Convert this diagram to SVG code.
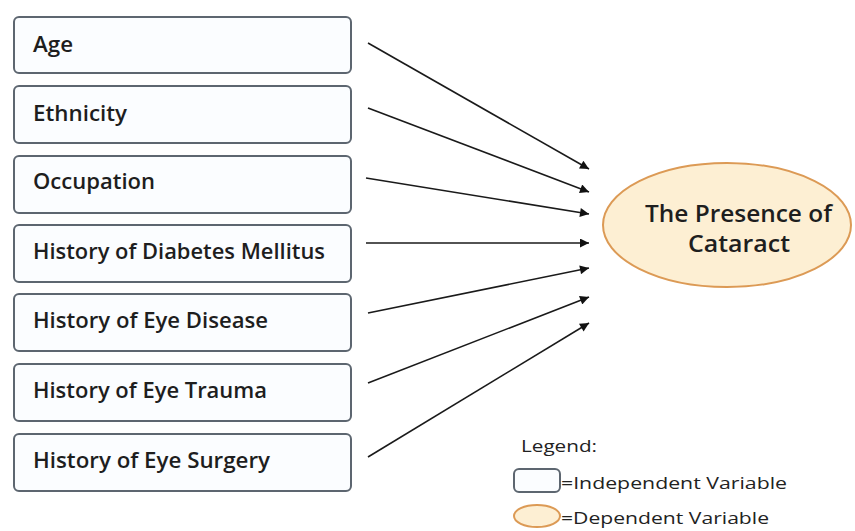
<svg xmlns="http://www.w3.org/2000/svg" width="855" height="531" viewBox="0 0 855 531">
<defs>
<style>
.box{fill:#fbfdff;stroke:#5d6670;stroke-width:2}
.lbl{font-family:"Open Sans","Liberation Sans",sans-serif;font-weight:600;font-size:21px;fill:#1e1e1e}
.ttl{font-family:"Open Sans","Liberation Sans",sans-serif;font-weight:600;font-size:23px;fill:#1e1e1e}
.conn{stroke:#1a1a1a;stroke-width:1.6;fill:none;marker-end:url(#ah)}
.leg{font-family:"Open Sans","Liberation Sans",sans-serif;font-size:17px;fill:#222}
</style>
<marker id="ah" viewBox="0 0 10 10" refX="10" refY="5" markerWidth="11" markerHeight="9" markerUnits="userSpaceOnUse" orient="auto">
<path d="M0,0 L10,5 L0,10 z" fill="#111"/>
</marker>
</defs>
<rect width="855" height="531" fill="#ffffff"/>
<g id="n-age"><rect class="box" x="14" y="17" width="337" height="56" rx="5"/><text class="lbl" x="33" y="52" textLength="40" lengthAdjust="spacingAndGlyphs">Age</text></g>
<g id="n-ethnicity"><rect class="box" x="14" y="86" width="337" height="57" rx="5"/><text class="lbl" x="33" y="121" textLength="94" lengthAdjust="spacingAndGlyphs">Ethnicity</text></g>
<g id="n-occupation"><rect class="box" x="14" y="156" width="337" height="57" rx="5"/><text class="lbl" x="33" y="189" textLength="122" lengthAdjust="spacingAndGlyphs">Occupation</text></g>
<g id="n-diabetes"><rect class="box" x="14" y="225" width="337" height="57" rx="5"/><text class="lbl" x="33" y="259" textLength="292" lengthAdjust="spacingAndGlyphs">History of Diabetes Mellitus</text></g>
<g id="n-disease"><rect class="box" x="14" y="294" width="337" height="57" rx="5"/><text class="lbl" x="33" y="328" textLength="235" lengthAdjust="spacingAndGlyphs">History of Eye Disease</text></g>
<g id="n-trauma"><rect class="box" x="14" y="364" width="337" height="57" rx="5"/><text class="lbl" x="33" y="398" textLength="234" lengthAdjust="spacingAndGlyphs">History of Eye Trauma</text></g>
<g id="n-surgery"><rect class="box" x="14" y="434" width="337" height="57" rx="5"/><text class="lbl" x="33" y="468" textLength="237" lengthAdjust="spacingAndGlyphs">History of Eye Surgery</text></g>
<g id="n-cataract">
<ellipse cx="727" cy="225" rx="124" ry="62" fill="#fdefd3" stroke="#dc9a55" stroke-width="2"/>
<text class="ttl" x="645" y="222" textLength="187" lengthAdjust="spacingAndGlyphs">The Presence of</text>
<text class="ttl" x="688" y="252" textLength="102" lengthAdjust="spacingAndGlyphs">Cataract</text>
</g>
<g id="connectors">
<line class="conn" x1="368" y1="43" x2="589" y2="169"/>
<line class="conn" x1="368" y1="108" x2="589" y2="192"/>
<line class="conn" x1="366" y1="178" x2="589" y2="214"/>
<line class="conn" x1="366" y1="243" x2="589" y2="243"/>
<line class="conn" x1="368" y1="313" x2="589" y2="268"/>
<line class="conn" x1="368" y1="383" x2="589" y2="297"/>
<line class="conn" x1="368" y1="457" x2="589" y2="323"/>
</g>
<g id="legend">
<text class="leg" x="521" y="452" textLength="76" lengthAdjust="spacingAndGlyphs">Legend:</text>
<rect x="514" y="469" width="46" height="23" rx="5" fill="#fbfdff" stroke="#5d6670" stroke-width="2"/>
<text class="leg" x="561" y="489" textLength="226" lengthAdjust="spacingAndGlyphs">=Independent Variable</text>
<ellipse cx="537" cy="516" rx="23" ry="11" fill="#fdefd3" stroke="#dc9a55" stroke-width="2"/>
<text class="leg" x="561" y="524" textLength="208" lengthAdjust="spacingAndGlyphs">=Dependent Variable</text>
</g>
</svg>
